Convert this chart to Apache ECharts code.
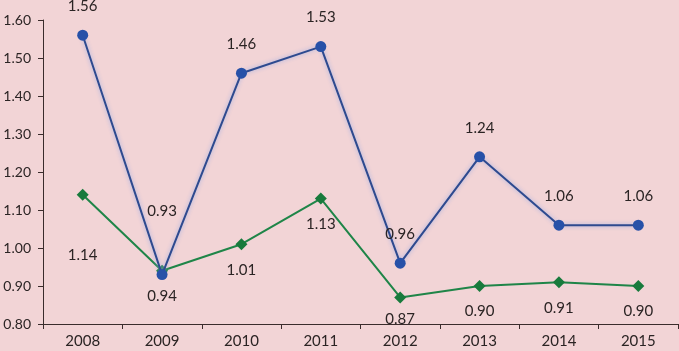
<!DOCTYPE html>
<html>
<head>
<meta charset="utf-8">
<script src="https://cdn.jsdelivr.net/npm/echarts@6/dist/echarts.min.js"></script>
<style>
  html, body { margin: 0; padding: 0; background: #f2d4d6; }
  #chart { width: 679px; height: 351px; }
</style>
</head>
<body>
<div id="chart"></div>
<script>
const years = ['2008', '2009', '2010', '2011', '2012', '2013', '2014', '2015'];
const blueValues = [1.56, 0.93, 1.46, 1.53, 0.96, 1.24, 1.06, 1.06];
const greenValues = [1.14, 0.94, 1.01, 1.13, 0.87, 0.90, 0.91, 0.90];

const textColor = '#2b2424';
const font = 'Lato';

// a couple of labels were moved by hand in the original to dodge the lines
const blueData = blueValues.map((v, i) => {
    if (i === 1) {
        return { value: v, label: { offset: [0, -34] } };
    }
    return v;
});
const greenData = greenValues.map((v, i) => {
    if (i === 0) {
        return { value: v, label: { offset: [0, 35] } };
    }
    if (i === 4) {
        return { value: v, label: { offset: [0, -4] } };
    }
    return v;
});

const myChart = echarts.init(document.getElementById('chart'));
const option = {
    backgroundColor: '#f2d4d6',
    animation: false,
    grid: {
        left: 43,
        right: 1,
        top: 20,
        bottom: 27,
        containLabel: false
    },
    xAxis: {
        type: 'category',
        data: years,
        boundaryGap: true,
        axisLine: { lineStyle: { color: '#3a2c2c', width: 1 } },
        axisTick: { show: true, length: 5, lineStyle: { color: '#3a2c2c' } },
        axisLabel: { color: textColor, fontSize: 15, fontFamily: font, margin: 10 }
    },
    yAxis: {
        type: 'value',
        min: 0.8,
        max: 1.6,
        interval: 0.1,
        axisLine: { show: true, lineStyle: { color: '#3a2c2c', width: 1 } },
        axisTick: { show: true, length: 5, lineStyle: { color: '#3a2c2c' } },
        splitLine: { show: false },
        axisLabel: {
            color: textColor,
            fontSize: 14,
            fontFamily: font,
            margin: 12,
            formatter: v => v.toFixed(2)
        }
    },
    series: [{
        name: 'blue',
        type: 'line',
        data: blueData,
        symbol: 'circle',
        symbolSize: 11,
        itemStyle: { color: '#2751a8' },
        lineStyle: {
            color: '#2e4a8f',
            width: 2,
            shadowColor: 'rgba(150,170,230,0.9)',
            shadowBlur: 4
        },
        label: {
            show: true,
            position: 'top',
            distance: 16,
            color: textColor,
            fontSize: 15,
            fontFamily: font,
            formatter: p => p.value.toFixed(2)
        },
        z: 3
    }, {
        name: 'green',
        type: 'line',
        data: greenData,
        symbol: 'diamond',
        symbolSize: 12,
        itemStyle: { color: '#187a3c' },
        lineStyle: { color: '#1f8548', width: 2 },
        label: {
            show: true,
            position: 'bottom',
            distance: 12,
            color: textColor,
            fontSize: 15,
            fontFamily: font,
            formatter: p => p.value.toFixed(2)
        },
        z: 2
    }]
};
myChart.setOption(option);
</script>
</body>
</html>
